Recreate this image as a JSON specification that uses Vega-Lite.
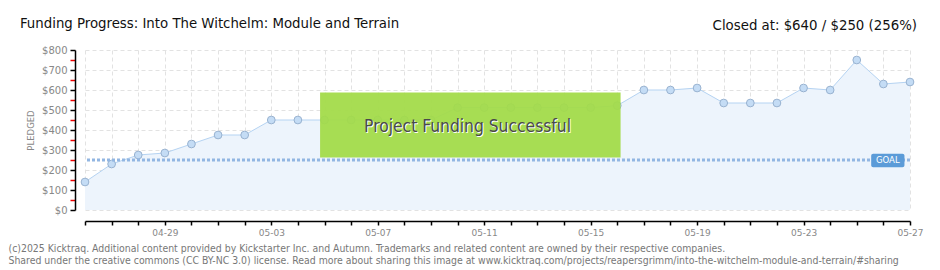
{
  "$schema": "https://vega.github.io/schema/vega-lite/v6.json",
  "width": 825,
  "height": 160,
  "autosize": "none",
  "padding": {"left": 85, "top": 50, "right": 30, "bottom": 60},
  "background": "white",
  "config": {"view": {"stroke": null}, "axis": {"labelOverlap": false}},
  "title": {
    "text": "Funding Progress: Into The Witchelm: Module and Terrain",
    "anchor": "start",
    "frame": "group",
    "dx": -65,
    "dy": 27,
    "offset": 14,
    "font": "DejaVu Sans Condensed, sans-serif",
    "fontSize": 14.8,
    "fontWeight": "normal",
    "color": "#111"
  },
  "layer": [
    {
      "data": {
        "name": "pledges",
        "values": [
          {"date": "2025-04-26", "pledged": 140},
          {"date": "2025-04-27", "pledged": 230},
          {"date": "2025-04-28", "pledged": 275},
          {"date": "2025-04-29", "pledged": 285},
          {"date": "2025-04-30", "pledged": 330},
          {"date": "2025-05-01", "pledged": 375},
          {"date": "2025-05-02", "pledged": 375},
          {"date": "2025-05-03", "pledged": 450},
          {"date": "2025-05-04", "pledged": 450},
          {"date": "2025-05-05", "pledged": 450},
          {"date": "2025-05-06", "pledged": 450},
          {"date": "2025-05-07", "pledged": 450},
          {"date": "2025-05-08", "pledged": 450},
          {"date": "2025-05-09", "pledged": 450},
          {"date": "2025-05-10", "pledged": 512},
          {"date": "2025-05-11", "pledged": 512},
          {"date": "2025-05-12", "pledged": 512},
          {"date": "2025-05-13", "pledged": 512},
          {"date": "2025-05-14", "pledged": 512},
          {"date": "2025-05-15", "pledged": 512},
          {"date": "2025-05-16", "pledged": 522},
          {"date": "2025-05-17", "pledged": 600},
          {"date": "2025-05-18", "pledged": 600},
          {"date": "2025-05-19", "pledged": 610},
          {"date": "2025-05-20", "pledged": 535},
          {"date": "2025-05-21", "pledged": 535},
          {"date": "2025-05-22", "pledged": 535},
          {"date": "2025-05-23", "pledged": 610},
          {"date": "2025-05-24", "pledged": 600},
          {"date": "2025-05-25", "pledged": 750},
          {"date": "2025-05-26", "pledged": 630},
          {"date": "2025-05-27", "pledged": 640}
        ]
      },
      "encoding": {
        "x": {"field": "date", "type": "temporal"},
        "y": {"field": "pledged", "type": "quantitative"}
      },
      "layer": [
        {
          "mark": {"type": "area", "color": "#edf4fc", "opacity": 1},
          "encoding": {
            "x": {
              "field": "date", "type": "temporal",
              "scale": {"type": "utc", "domain": [{"year": 2025, "month": 4, "date": 26, "utc": true}, {"year": 2025, "month": 5, "date": 27, "utc": true}]},
              "axis": {
                "title": ["(c)2025 Kicktraq. Additional content provided by Kickstarter Inc. and Autumn. Trademarks and related content are owned by their respective companies.", "Shared under the creative commons (CC BY-NC 3.0) license. Read more about sharing this image at www.kicktraq.com/projects/reapersgrimm/into-the-witchelm-module-and-terrain/#sharing"],
                "titleFont": "DejaVu Sans Condensed, sans-serif",
                "titleFontSize": 10.4,
                "titleFontWeight": "normal",
                "titleColor": "#777",
                "titleAnchor": "start",
                "titleAlign": "left",
                "titleBaseline": "alphabetic",
                "titleX": -77,
                "titleY": 30,
                "titleLineHeight": 12,
                "offset": 11,
                "domainColor": "#000",
                "domainWidth": 1.5,
                "tickColor": "#000",
                "tickWidth": 1.5,
                "tickSize": 4,
                "tickCount": {"interval": "day", "step": 1},
                "format": "%m-%d",
                "labelExpr": "round((datum.value - 1745625600000) / 86400000) % 4 == 3 ? datum.label : ''",
                "labelFont": "DejaVu Sans, sans-serif",
                "labelFontSize": 9,
                "labelColor": "#888",
                "labelPadding": 3,
                "grid": true,
                "gridColor": "#e2e2e2",
                "gridDash": [4, 3],
                "labelOverlap": false,
                "labelFlush": false
              }
            },
            "y": {
              "field": "pledged", "type": "quantitative",
              "scale": {"domain": [0, 800], "nice": false},
              "axis": {
                "title": "PLEDGED",
                "titleFont": "DejaVu Sans, sans-serif",
                "titleFontSize": 8.5,
                "titleFontWeight": "normal",
                "titleColor": "#888",
                "titlePadding": 6,
                "values": [0, 50, 100, 150, 200, 250, 300, 350, 400, 450, 500, 550, 600, 650, 700, 750, 800],
                "tickCount": 40,
                "labelExpr": "datum.value % 100 == 0 ? '$' + datum.value : ''",
                "labelOverlap": false,
                "labelFont": "DejaVu Sans, sans-serif",
                "labelFontSize": 10,
                "labelColor": "#888",
                "labelPadding": 3,
                "offset": 10,
                "domainColor": "#000",
                "domainWidth": 1.5,
                "tickSize": 5,
                "tickWidth": 1.5,
                "tickColor": {"condition": {"test": "datum.value % 100 == 0", "value": "#000"}, "value": "#e00"},
                "grid": true,
                "gridColor": "#e2e2e2",
                "gridDash": [4, 3],
                "gridOpacity": {"condition": {"test": "datum.value % 100 == 0", "value": 1}, "value": 0}
              }
            }
          }
        },
        {
          "mark": {"type": "line", "color": "#b5d3f2", "strokeWidth": 1}
        },
        {
          "mark": {"type": "point", "filled": true, "fill": "#c4dcf5", "stroke": "#98b2d0", "strokeWidth": 1, "size": 60, "opacity": 1}
        }
      ]
    },
    {
      "data": {"values": [{}]},
      "layer": [
        {
          "mark": {"type": "rule", "color": "#92b6e2", "strokeWidth": 3, "strokeDash": [3, 2]},
          "encoding": {"y": {"datum": 250}}
        },
        {
          "mark": {"type": "rect", "fill": "#a3db48", "opacity": 0.94},
          "encoding": {
            "x": {"datum": {"year": 2025, "month": 5, "date": 4, "hours": 20, "utc": true}, "type": "temporal"},
            "x2": {"datum": {"year": 2025, "month": 5, "date": 16, "hours": 3, "utc": true}},
            "y": {"datum": 588},
            "y2": {"datum": 262}
          }
        },
        {
          "mark": {"type": "text", "text": "Project Funding Successful", "font": "DejaVu Sans Condensed, sans-serif", "fontSize": 17.3, "fill": "#ffffff", "align": "center", "baseline": "alphabetic", "dx": 1, "dy": 1},
          "encoding": {
            "x": {"datum": {"year": 2025, "month": 5, "date": 10, "hours": 9, "utc": true}, "type": "temporal"},
            "y": {"datum": 392}
          }
        },
        {
          "mark": {"type": "text", "text": "Project Funding Successful", "font": "DejaVu Sans Condensed, sans-serif", "fontSize": 17.3, "fill": "#4a4a4a", "align": "center", "baseline": "alphabetic"},
          "encoding": {
            "x": {"datum": {"year": 2025, "month": 5, "date": 10, "hours": 9, "utc": true}, "type": "temporal"},
            "y": {"datum": 392}
          }
        },
        {
          "mark": {"type": "rect", "fill": "#5b9bd8", "cornerRadius": 2},
          "encoding": {
            "x": {"datum": {"year": 2025, "month": 5, "date": 25, "hours": 13, "utc": true}, "type": "temporal"},
            "x2": {"datum": {"year": 2025, "month": 5, "date": 26, "hours": 19, "utc": true}},
            "y": {"datum": 281},
            "y2": {"datum": 214}
          }
        },
        {
          "mark": {"type": "text", "text": "GOAL", "font": "DejaVu Sans, sans-serif", "fontSize": 8.5, "fill": "#ffffff", "align": "center", "baseline": "middle"},
          "encoding": {
            "x": {"datum": {"year": 2025, "month": 5, "date": 26, "hours": 4, "utc": true}, "type": "temporal"},
            "y": {"datum": 248}
          }
        },
        {
          "mark": {"type": "text", "text": "Closed at: $640 / $250 (256%)", "font": "DejaVu Sans Condensed, sans-serif", "fontSize": 14.8, "fill": "#111", "align": "right", "baseline": "alphabetic", "dx": 7},
          "encoding": {
            "x": {"datum": {"year": 2025, "month": 5, "date": 27, "utc": true}, "type": "temporal"},
            "y": {"datum": 902}
          }
        }
      ]
    }
  ]
}
